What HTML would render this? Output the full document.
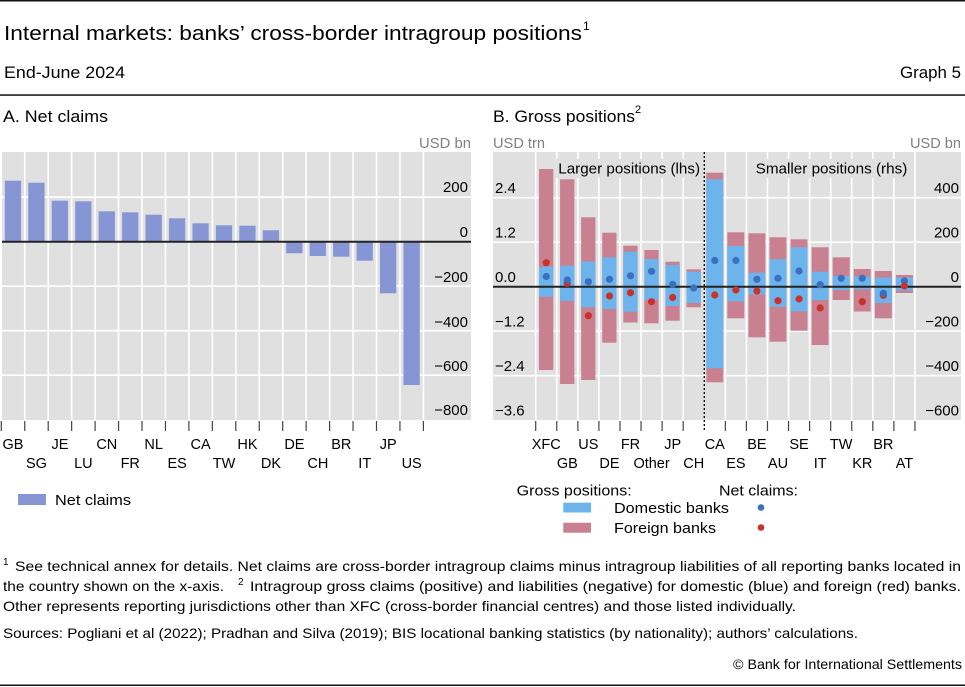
<!DOCTYPE html>
<html><head><meta charset="utf-8"><style>
html,body{margin:0;padding:0;background:#fff;}
svg{display:block;}
text{font-family:"Liberation Sans",sans-serif;}
</style></head><body>
<svg width="965" height="687" viewBox="0 0 965 687" xmlns="http://www.w3.org/2000/svg">
<!-- header -->
<rect x="0" y="0" width="965" height="1.5" fill="#111"/>
<text x="4" y="40" font-size="20" textLength="578" lengthAdjust="spacingAndGlyphs">Internal markets: banks’ cross-border intragroup positions</text>
<text x="583" y="30" font-size="12">1</text>
<text x="4" y="78" font-size="17" textLength="121" lengthAdjust="spacingAndGlyphs">End-June 2024</text>
<text x="900" y="78" font-size="17" textLength="61" lengthAdjust="spacingAndGlyphs">Graph 5</text>
<rect x="0" y="94.3" width="965" height="1.5" fill="#111"/>
<text x="3" y="122" font-size="17" textLength="105" lengthAdjust="spacingAndGlyphs">A. Net claims</text>
<text x="493" y="122" font-size="17" textLength="142" lengthAdjust="spacingAndGlyphs">B. Gross positions</text>
<text x="635" y="113" font-size="11">2</text>
<text x="419" y="148" font-size="15" fill="#808080" textLength="52" lengthAdjust="spacingAndGlyphs">USD bn</text>
<text x="493" y="148" font-size="15" fill="#808080" textLength="52" lengthAdjust="spacingAndGlyphs">USD trn</text>
<text x="910" y="148" font-size="15" fill="#808080" textLength="51" lengthAdjust="spacingAndGlyphs">USD bn</text>

<!-- Panel A -->
<rect x="2" y="152" width="469" height="268" fill="#e0e0e0"/>
<g stroke="#fff" stroke-width="1.6">
<line x1="2" x2="471" y1="197.2" y2="197.2"/>
<line x1="2" x2="471" y1="286.2" y2="286.2"/>
<line x1="2" x2="471" y1="330.7" y2="330.7"/>
<line x1="2" x2="471" y1="375.2" y2="375.2"/>
<line x1="24.75" x2="24.75" y1="152" y2="420"/>
<line x1="48.2" x2="48.2" y1="152" y2="420"/>
<line x1="71.65" x2="71.65" y1="152" y2="420"/>
<line x1="95.1" x2="95.1" y1="152" y2="420"/>
<line x1="118.55" x2="118.55" y1="152" y2="420"/>
<line x1="142" x2="142" y1="152" y2="420"/>
<line x1="165.45" x2="165.45" y1="152" y2="420"/>
<line x1="188.9" x2="188.9" y1="152" y2="420"/>
<line x1="212.35" x2="212.35" y1="152" y2="420"/>
<line x1="235.8" x2="235.8" y1="152" y2="420"/>
<line x1="259.25" x2="259.25" y1="152" y2="420"/>
<line x1="282.7" x2="282.7" y1="152" y2="420"/>
<line x1="306.15" x2="306.15" y1="152" y2="420"/>
<line x1="329.6" x2="329.6" y1="152" y2="420"/>
<line x1="353.05" x2="353.05" y1="152" y2="420"/>
<line x1="376.5" x2="376.5" y1="152" y2="420"/>
<line x1="399.95" x2="399.95" y1="152" y2="420"/>
<line x1="423.4" x2="423.4" y1="152" y2="420"/>
</g>
<g fill="#8696d4">
<rect x="4.8" y="180.7" width="16.3" height="61"/>
<rect x="28.25" y="182.7" width="16.3" height="59"/>
<rect x="51.7" y="200.7" width="16.3" height="41"/>
<rect x="75.15" y="201.3" width="16.3" height="40.4"/>
<rect x="98.6" y="211.3" width="16.3" height="30.4"/>
<rect x="122.05" y="212.3" width="16.3" height="29.4"/>
<rect x="145.5" y="214.7" width="16.3" height="27"/>
<rect x="168.95" y="218.3" width="16.3" height="23.4"/>
<rect x="192.4" y="223.3" width="16.3" height="18.4"/>
<rect x="215.85" y="225.3" width="16.3" height="16.4"/>
<rect x="239.3" y="225.7" width="16.3" height="16"/>
<rect x="262.75" y="230.3" width="16.3" height="11.4"/>
<rect x="286.2" y="241.7" width="16.3" height="11.6"/>
<rect x="309.65" y="241.7" width="16.3" height="14.3"/>
<rect x="333.1" y="241.7" width="16.3" height="15"/>
<rect x="356.55" y="241.7" width="16.3" height="19"/>
<rect x="380" y="241.7" width="16.3" height="51.6"/>
<rect x="403.45" y="241.7" width="16.3" height="143.3"/>
</g>
<line x1="2" x2="471" y1="241.7" y2="241.7" stroke="#222" stroke-width="2"/>
<g font-size="15" text-anchor="end">
<text x="468" y="192">200</text>
<text x="468" y="237">0</text>
<text x="468" y="282">−200</text>
<text x="468" y="327">−400</text>
<text x="468" y="371">−600</text>
<text x="468" y="415">−800</text>
</g>
<g stroke="#444" stroke-width="1.2">
<line x1="1.3" x2="1.3" y1="421" y2="431"/>
<line x1="24.75" x2="24.75" y1="421" y2="431"/>
<line x1="48.2" x2="48.2" y1="421" y2="431"/>
<line x1="71.65" x2="71.65" y1="421" y2="431"/>
<line x1="95.1" x2="95.1" y1="421" y2="431"/>
<line x1="118.55" x2="118.55" y1="421" y2="431"/>
<line x1="142" x2="142" y1="421" y2="431"/>
<line x1="165.45" x2="165.45" y1="421" y2="431"/>
<line x1="188.9" x2="188.9" y1="421" y2="431"/>
<line x1="212.35" x2="212.35" y1="421" y2="431"/>
<line x1="235.8" x2="235.8" y1="421" y2="431"/>
<line x1="259.25" x2="259.25" y1="421" y2="431"/>
<line x1="282.7" x2="282.7" y1="421" y2="431"/>
<line x1="306.15" x2="306.15" y1="421" y2="431"/>
<line x1="329.6" x2="329.6" y1="421" y2="431"/>
<line x1="353.05" x2="353.05" y1="421" y2="431"/>
<line x1="376.5" x2="376.5" y1="421" y2="431"/>
<line x1="399.95" x2="399.95" y1="421" y2="431"/>
<line x1="423.4" x2="423.4" y1="421" y2="431"/>
</g>
<g font-size="14.5" text-anchor="middle">
<text x="13" y="449">GB</text>
<text x="36.45" y="468">SG</text>
<text x="59.9" y="449">JE</text>
<text x="83.35" y="468">LU</text>
<text x="106.8" y="449">CN</text>
<text x="130.25" y="468">FR</text>
<text x="153.7" y="449">NL</text>
<text x="177.15" y="468">ES</text>
<text x="200.6" y="449">CA</text>
<text x="224.05" y="468">TW</text>
<text x="247.5" y="449">HK</text>
<text x="270.95" y="468">DK</text>
<text x="294.4" y="449">DE</text>
<text x="317.85" y="468">CH</text>
<text x="341.3" y="449">BR</text>
<text x="364.75" y="468">IT</text>
<text x="388.2" y="449">JP</text>
<text x="411.65" y="468">US</text>
</g>
<rect x="18" y="494" width="28" height="11" fill="#8696d4"/>
<text x="55" y="505" font-size="15" textLength="76" lengthAdjust="spacingAndGlyphs">Net claims</text>

<!-- Panel B -->
<rect x="493" y="152" width="468" height="268" fill="#e0e0e0"/>
<g stroke="#fff" stroke-width="1.6">
<line x1="493" x2="961" y1="197.7" y2="197.7"/>
<line x1="493" x2="961" y1="242.2" y2="242.2"/>
<line x1="493" x2="961" y1="331.2" y2="331.2"/>
<line x1="493" x2="961" y1="375.7" y2="375.7"/>
<line x1="535.7" x2="535.7" y1="152" y2="420"/>
<line x1="556.77" x2="556.77" y1="152" y2="420"/>
<line x1="577.84" x2="577.84" y1="152" y2="420"/>
<line x1="598.91" x2="598.91" y1="152" y2="420"/>
<line x1="619.98" x2="619.98" y1="152" y2="420"/>
<line x1="641.05" x2="641.05" y1="152" y2="420"/>
<line x1="662.12" x2="662.12" y1="152" y2="420"/>
<line x1="683.19" x2="683.19" y1="152" y2="420"/>
<line x1="725.33" x2="725.33" y1="152" y2="420"/>
<line x1="746.4" x2="746.4" y1="152" y2="420"/>
<line x1="767.47" x2="767.47" y1="152" y2="420"/>
<line x1="788.54" x2="788.54" y1="152" y2="420"/>
<line x1="809.61" x2="809.61" y1="152" y2="420"/>
<line x1="830.68" x2="830.68" y1="152" y2="420"/>
<line x1="851.75" x2="851.75" y1="152" y2="420"/>
<line x1="872.82" x2="872.82" y1="152" y2="420"/>
<line x1="893.89" x2="893.89" y1="152" y2="420"/>
<line x1="914.96" x2="914.96" y1="152" y2="420"/>
</g>
<!-- text masks -->
<rect x="555" y="159" width="147" height="19" fill="#e0e0e0"/>
<rect x="752" y="159" width="159" height="19" fill="#e0e0e0"/>
<text x="558.3" y="173.5" font-size="15" textLength="141.7" lengthAdjust="spacingAndGlyphs">Larger positions (lhs)</text>
<text x="755.7" y="173.5" font-size="15" textLength="151.6" lengthAdjust="spacingAndGlyphs">Smaller positions (rhs)</text>

<g fill="#c98091">
<rect x="539" y="169" width="14.3" height="201"/>
<rect x="560.07" y="179.3" width="14.3" height="204.7"/>
<rect x="581.14" y="217.3" width="14.3" height="162.7"/>
<rect x="602.21" y="232.7" width="14.3" height="110"/>
<rect x="623.28" y="245.7" width="14.3" height="76.8"/>
<rect x="644.35" y="250" width="14.3" height="73.3"/>
<rect x="665.42" y="261.7" width="14.3" height="59"/>
<rect x="686.49" y="269.3" width="14.3" height="38"/>
<rect x="706.26" y="172.7" width="17" height="209.6"/>
<rect x="727.33" y="232.3" width="17" height="86"/>
<rect x="748.4" y="233.3" width="17" height="104"/>
<rect x="769.47" y="237.3" width="17" height="104.4"/>
<rect x="790.54" y="239.3" width="17" height="91.4"/>
<rect x="811.61" y="247.3" width="17" height="97.7"/>
<rect x="832.68" y="257.3" width="17" height="42.7"/>
<rect x="853.75" y="269" width="17" height="42.5"/>
<rect x="874.82" y="271" width="17" height="47.3"/>
<rect x="895.89" y="275" width="17" height="18"/>
</g>
<g fill="#6cb4eb">
<rect x="539" y="266.7" width="14.3" height="30"/>
<rect x="560.07" y="265.7" width="14.3" height="35.1"/>
<rect x="581.14" y="261.5" width="14.3" height="45.8"/>
<rect x="602.21" y="257.3" width="14.3" height="51.7"/>
<rect x="623.28" y="251.7" width="14.3" height="60"/>
<rect x="644.35" y="259" width="14.3" height="41"/>
<rect x="665.42" y="265" width="14.3" height="41"/>
<rect x="686.49" y="271.7" width="14.3" height="31.3"/>
<rect x="706.26" y="179.3" width="17" height="189"/>
<rect x="727.33" y="246" width="17" height="55.3"/>
<rect x="748.4" y="272.7" width="17" height="21.8"/>
<rect x="769.47" y="259.3" width="17" height="47.4"/>
<rect x="790.54" y="247.3" width="17" height="64"/>
<rect x="811.61" y="271.7" width="17" height="28.3"/>
<rect x="832.68" y="276" width="17" height="14"/>
<rect x="853.75" y="276.5" width="17" height="12.8"/>
<rect x="874.82" y="277.5" width="17" height="25.5"/>
<rect x="895.89" y="277.5" width="17" height="13"/>
</g>
<line x1="493" x2="961" y1="286.7" y2="286.7" stroke="#222" stroke-width="2"/>
<line x1="704.3" x2="704.3" y1="152" y2="431" stroke="#111" stroke-width="1.4" stroke-dasharray="2 2"/>
<g fill="#c8322b">
<circle cx="546.23" cy="262.7" r="3.6"/>
<circle cx="567.3" cy="283.3" r="3.6"/>
<circle cx="588.37" cy="315.7" r="3.6"/>
<circle cx="609.44" cy="296" r="3.6"/>
<circle cx="630.51" cy="292.7" r="3.6"/>
<circle cx="651.58" cy="301.7" r="3.6"/>
<circle cx="672.65" cy="297.5" r="3.6"/>
<circle cx="714.79" cy="295" r="3.6"/>
<circle cx="735.86" cy="290" r="3.6"/>
<circle cx="756.93" cy="291" r="3.6"/>
<circle cx="778" cy="300.7" r="3.6"/>
<circle cx="799.07" cy="299" r="3.6"/>
<circle cx="820.14" cy="308" r="3.6"/>
<circle cx="862.28" cy="301.7" r="3.6"/>
<circle cx="883.35" cy="295.3" r="3.6"/>
</g>
<g fill="#3d6fbf">
<circle cx="546.23" cy="276.5" r="3.6"/>
<circle cx="567.3" cy="280" r="3.6"/>
<circle cx="588.37" cy="281.7" r="3.6"/>
<circle cx="609.44" cy="279.3" r="3.6"/>
<circle cx="630.51" cy="275.8" r="3.6"/>
<circle cx="651.58" cy="271.3" r="3.6"/>
<circle cx="672.65" cy="284.3" r="3.6"/>
<circle cx="693.72" cy="288" r="3.6"/>
<circle cx="714.79" cy="260.5" r="3.6"/>
<circle cx="735.86" cy="260.5" r="3.6"/>
<circle cx="756.93" cy="279.3" r="3.6"/>
<circle cx="778" cy="278.3" r="3.6"/>
<circle cx="799.07" cy="271" r="3.6"/>
<circle cx="820.14" cy="284.7" r="3.6"/>
<circle cx="841.21" cy="278.3" r="3.6"/>
<circle cx="862.28" cy="278.3" r="3.6"/>
<circle cx="883.35" cy="293.3" r="3.6"/>
<circle cx="904.42" cy="281" r="3.6"/>
</g>
<circle cx="904.42" cy="286" r="3.6" fill="#c8322b"/>
<g font-size="15">
<text x="495" y="193">2.4</text>
<text x="495" y="237.5">1.2</text>
<text x="495" y="282">0.0</text>
<text x="495" y="326.5">−1.2</text>
<text x="495" y="371">−2.4</text>
<text x="495" y="415.5">−3.6</text>
</g>
<g font-size="15" text-anchor="end">
<text x="959" y="193">400</text>
<text x="959" y="237.5">200</text>
<text x="959" y="282">0</text>
<text x="959" y="326.5">−200</text>
<text x="959" y="371">−400</text>
<text x="959" y="415.5">−600</text>
</g>
<g stroke="#444" stroke-width="1.2">
<line x1="535.7" x2="535.7" y1="421" y2="431"/>
<line x1="556.77" x2="556.77" y1="421" y2="431"/>
<line x1="577.84" x2="577.84" y1="421" y2="431"/>
<line x1="598.91" x2="598.91" y1="421" y2="431"/>
<line x1="619.98" x2="619.98" y1="421" y2="431"/>
<line x1="641.05" x2="641.05" y1="421" y2="431"/>
<line x1="662.12" x2="662.12" y1="421" y2="431"/>
<line x1="683.19" x2="683.19" y1="421" y2="431"/>
<line x1="725.33" x2="725.33" y1="421" y2="431"/>
<line x1="746.4" x2="746.4" y1="421" y2="431"/>
<line x1="767.47" x2="767.47" y1="421" y2="431"/>
<line x1="788.54" x2="788.54" y1="421" y2="431"/>
<line x1="809.61" x2="809.61" y1="421" y2="431"/>
<line x1="830.68" x2="830.68" y1="421" y2="431"/>
<line x1="851.75" x2="851.75" y1="421" y2="431"/>
<line x1="872.82" x2="872.82" y1="421" y2="431"/>
<line x1="893.89" x2="893.89" y1="421" y2="431"/>
<line x1="914.96" x2="914.96" y1="421" y2="431"/>
</g>
<g font-size="14.5" text-anchor="middle">
<text x="546.23" y="449">XFC</text>
<text x="567.3" y="468">GB</text>
<text x="588.37" y="449">US</text>
<text x="609.44" y="468">DE</text>
<text x="630.51" y="449">FR</text>
<text x="651.58" y="468">Other</text>
<text x="672.65" y="449">JP</text>
<text x="693.72" y="468">CH</text>
<text x="714.79" y="449">CA</text>
<text x="735.86" y="468">ES</text>
<text x="756.93" y="449">BE</text>
<text x="778" y="468">AU</text>
<text x="799.07" y="449">SE</text>
<text x="820.14" y="468">IT</text>
<text x="841.21" y="449">TW</text>
<text x="862.28" y="468">KR</text>
<text x="883.35" y="449">BR</text>
<text x="904.42" y="468">AT</text>
</g>
<!-- legend B -->
<text x="516.7" y="495.5" font-size="15" textLength="115" lengthAdjust="spacingAndGlyphs">Gross positions:</text>
<text x="719" y="495.5" font-size="15" textLength="79" lengthAdjust="spacingAndGlyphs">Net claims:</text>
<rect x="563.3" y="502.7" width="27.7" height="9.8" fill="#6cb4eb"/>
<rect x="563.3" y="522.7" width="27.7" height="10" fill="#c98091"/>
<text x="614" y="512.8" font-size="15" textLength="115" lengthAdjust="spacingAndGlyphs">Domestic banks</text>
<text x="614" y="532.8" font-size="15" textLength="102" lengthAdjust="spacingAndGlyphs">Foreign banks</text>
<circle cx="761" cy="507.5" r="3.3" fill="#3d6fbf"/>
<circle cx="761" cy="527.5" r="3.3" fill="#c8322b"/>

<!-- footnotes -->
<text x="3" y="565" font-size="10">1</text>
<text x="15" y="571" font-size="14" textLength="946" lengthAdjust="spacingAndGlyphs">See technical annex for details. Net claims are cross-border intragroup claims minus intragroup liabilities of all reporting banks located in</text>
<text x="3" y="591" font-size="14" textLength="221" lengthAdjust="spacingAndGlyphs">the country shown on the x-axis.</text>
<text x="238" y="585" font-size="10">2</text>
<text x="250" y="591" font-size="14" textLength="711" lengthAdjust="spacingAndGlyphs">Intragroup gross claims (positive) and liabilities (negative) for domestic (blue) and foreign (red) banks.</text>
<text x="3" y="611" font-size="14" textLength="793" lengthAdjust="spacingAndGlyphs">Other represents reporting jurisdictions other than XFC (cross-border financial centres) and those listed individually.</text>
<text x="3" y="638" font-size="14" textLength="855" lengthAdjust="spacingAndGlyphs">Sources: Pogliani et al (2022); Pradhan and Silva (2019); BIS locational banking statistics (by nationality); authors’ calculations.</text>
<text x="733" y="669" font-size="14" textLength="229" lengthAdjust="spacingAndGlyphs">© Bank for International Settlements</text>
<rect x="0" y="684.5" width="965" height="1.5" fill="#111"/>
</svg>
</body></html>
